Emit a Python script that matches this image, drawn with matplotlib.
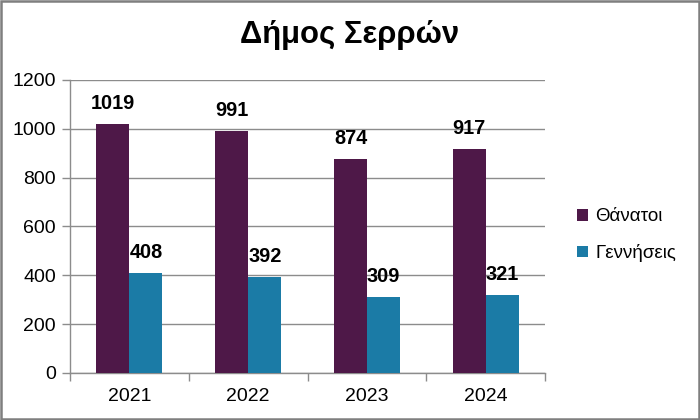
import matplotlib
matplotlib.use("Agg")
import matplotlib.pyplot as plt
from matplotlib.patches import Rectangle
import numpy as np

plt.rcParams['font.family'] = ['Liberation Sans', 'DejaVu Sans']

years = ["2021", "2022", "2023", "2024"]
deaths = [1019, 991, 874, 917]
births = [408, 392, 309, 321]
series_names = ["Θάνατοι", "Γεννήσεις"]
title = "Δήμος Σερρών"

c_death = "#4E1848"
c_birth = "#1B7BA6"
grid_c = "#8C8C8C"

fig = plt.figure(figsize=(7, 4.2), dpi=100)
fig.patches.append(Rectangle((0.0015, 0.0025), 0.997, 0.995, transform=fig.transFigure,
                             fill=False, edgecolor="#7F7F7F", linewidth=1.8))
ax = fig.add_axes([0.1, 0.112, 0.679, 0.698])

x = np.arange(len(years))
w = 0.278
b1 = ax.bar(x - w/2, deaths, w, color=c_death, zorder=3, label=series_names[0])
b2 = ax.bar(x + w/2, births, w, color=c_birth, zorder=3, label=series_names[1])

for rects, vals in ((b1, deaths), (b2, births)):
    for r, v in zip(rects, vals):
        ax.text(r.get_x() + r.get_width()/2, v + 45, str(v), ha="center", va="bottom",
                fontsize=14.3, fontweight="bold", color="black")

ax.set_xlim(-0.5, len(years) - 0.5)
ax.set_ylim(0, 1200)
ax.set_yticks(range(0, 1201, 200))
ax.yaxis.grid(True, color=grid_c, linewidth=1.0, zorder=0)
ax.set_axisbelow(True)

ax.set_xticks(x)
ax.set_xticklabels(years, fontsize=14)
ax.set_xticks(np.arange(-0.5, len(years), 1.0), minor=True)
ax.tick_params(axis="x", which="major", length=0, pad=11)
ax.tick_params(axis="x", which="minor", length=6, color=grid_c, width=1.0, direction="out")
ax.tick_params(axis="y", length=6, color=grid_c, width=1.0, labelsize=14, pad=4)

for s in ("top", "right"):
    ax.spines[s].set_visible(False)
for s in ("left", "bottom"):
    ax.spines[s].set_color(grid_c)
    ax.spines[s].set_linewidth(1.0)

fig.text(0.5, 0.917, title, ha="center", va="center", fontsize=22.3, fontweight="bold")

fig.legend(handles=[b1, b2], labels=series_names, loc="center left",
           bbox_to_anchor=(0.8, 0.44), frameon=False, fontsize=13.5,
           handlelength=0.6, handleheight=0.6, handletextpad=0.4, labelspacing=1.0)

fig.savefig("out.png", dpi=100)
